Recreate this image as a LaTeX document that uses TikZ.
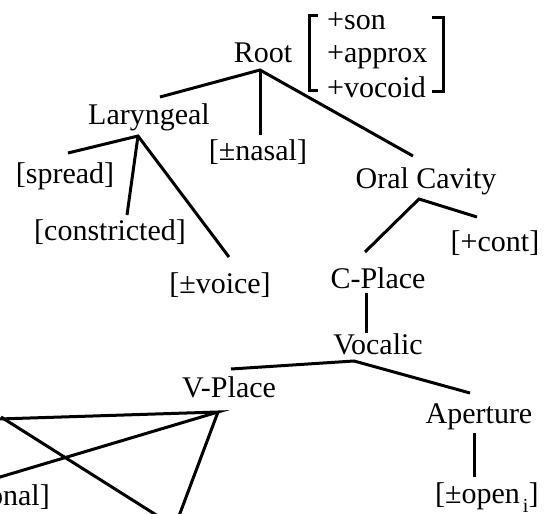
\documentclass[tikz,border=0pt]{standalone}
\usepackage{fontspec}
\setmainfont{Liberation Serif}
\begin{document}
\begin{tikzpicture}[x=1pt,y=-1pt,
  lbl/.style={font=\fontsize{30}{34}\selectfont, anchor=base, inner sep=0pt},
  lblw/.style={lbl, anchor=base west},
  edge/.style={line width=3pt},
  brk/.style={line width=3pt, line cap=butt}]
\useasboundingbox (0,0) rectangle (547,514);
\clip (0,0) rectangle (547,514);

% labels
\node[lbl] (root) at (263,63) {Root};
\node[lblw] (son) at (327,29) {+son};
\node[lblw] (approx) at (327,63) {+approx};
\node[lblw] (vocoid) at (327,97) {+vocoid};
\node[lbl] (lar) at (149,124) {Laryngeal};
\node[lbl] (spread) at (65,183) {[spread]};
\node[lbl] (constr) at (110,240) {[constricted]};
\node[lbl] (voice) at (220,293) {[±voice]};
\node[lbl] (nasal) at (258,160) {[±nasal]};
\node[lbl] (oral) at (426,188) {Oral Cavity};
\node[lbl] (cont) at (495,251) {[+cont]};
\node[lbl] (cpl) at (378,288) {C-Place};
\node[lbl] (voc) at (378,354) {Vocalic};
\node[lbl] (apert) at (479,423) {Aperture};
\node[lbl] (vpl) at (229,397) {V-Place};
\node[lblw] (open) at (435,503) {[±open\hspace{3pt}\raisebox{-9pt}{\fontsize{20}{20}\selectfont i}]};
\node[lbl, anchor=base east] (onal) at (50,505) {onal]};

% feature bracket
\draw[brk] (318,15) -- (309,15) -- (309,90) -- (318,90);
\draw[brk] (432,17) -- (443,17) -- (443,91) -- (432,91);

% attachment points
\coordinate (rootB) at (260,70);
\coordinate (larT) at (160,97);
\coordinate (nasalT) at (260,135);
\coordinate (oralT) at (413,156);
\coordinate (larB) at (138,136);
\coordinate (spreadT) at (68,153);
\coordinate (constrT) at (127,215);
\coordinate (voiceT) at (229,257);
\coordinate (oralB) at (419,199);
\coordinate (cplT) at (365,252);
\coordinate (contT) at (477,217);
\coordinate (cplB) at (366,293);
\coordinate (vocT) at (366,333);
\coordinate (vocB) at (354,361);
\coordinate (vplT) at (231,369);
\coordinate (apertT) at (470,393);
\coordinate (apertB) at (474,433);
\coordinate (openT) at (474,477);
\coordinate (vplB) at (218,412);
\coordinate (farA) at (-20,419.6);
\coordinate (farB) at (-20,483);
\coordinate (farC) at (176,524);
\coordinate (farD) at (1,417);
\coordinate (farE) at (180,530);

% connectors
\draw[edge] (larT) -- (rootB) -- (oralT);
\draw[edge] (rootB) -- (nasalT);
\draw[edge] (spreadT) -- (larB) -- (voiceT);
\draw[edge] (larB) -- (constrT);
\draw[edge] (cplT) -- (oralB) -- (contT);
\draw[edge] (cplB) -- (vocT);
\draw[edge] (vplT) -- (vocB) -- (apertT);
\draw[edge] (apertB) -- (openT);
\draw[edge] (farA) -- (vplB) -- (farB);
\draw[edge] (vplB) -- (farC);
\draw[edge] (farD) -- (farE);
\end{tikzpicture}
\end{document}
